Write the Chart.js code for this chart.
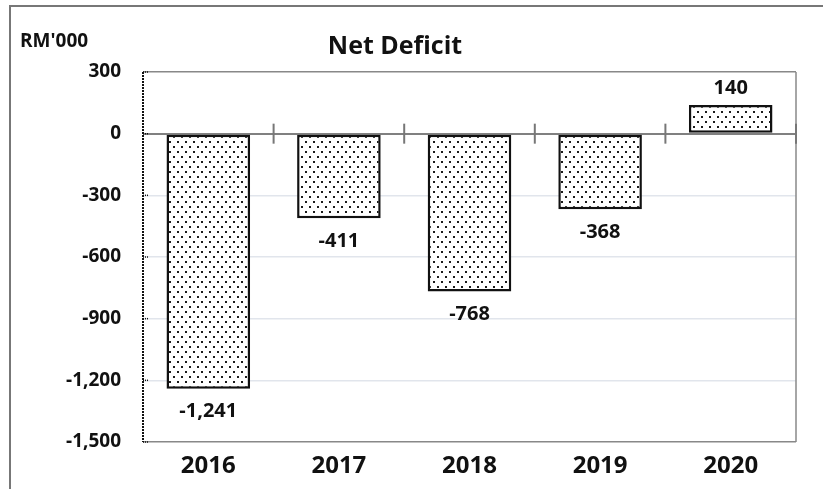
<!DOCTYPE html>
<html>
<head>
<meta charset="utf-8">
<script src="https://cdn.jsdelivr.net/npm/chart.js@4"></script>
<style>
  html, body { margin: 0; padding: 0; background: #fff; }
  #wrap { width: 826px; height: 489px; position: relative; }
</style>
</head>
<body>
<div id="wrap"><canvas id="chart" width="826" height="489"></canvas></div>
<script>
// chart data
const years = ["2016", "2017", "2018", "2019", "2020"];
const netDeficit = [-1241, -411, -768, -368, 140];
const yTicks = [300, 0, -300, -600, -900, -1200, -1500];
const chartTitle = "Net Deficit";
const unitLabel = "RM'000";

const FONT = "'Open Sans', 'Noto Sans', sans-serif";

// dotted fill like the Excel pattern
function makeDots() {
  const c = document.createElement("canvas");
  c.width = 8;
  c.height = 10;
  const g = c.getContext("2d");
  g.fillStyle = "#fff";
  g.fillRect(0, 0, 8, 10);
  g.fillStyle = "#1a1a1a";
  g.fillRect(1, 1, 2, 2);
  g.fillRect(5, 6, 2, 2);
  return g.createPattern(c, "repeat");
}

const fmt = (v) => v.toLocaleString("en-US");

const extras = {
  id: "extras",
  afterDraw(chart) {
    const { ctx, chartArea: a, scales } = chart;
    const x = scales.x, y = scales.y;
    ctx.save();

    // outer frame
    ctx.strokeStyle = "#777";
    ctx.lineWidth = 2;
    ctx.beginPath();
    ctx.moveTo(10, 489);
    ctx.lineTo(10, 6);
    ctx.lineTo(823, 6);
    ctx.stroke();

    // right edge of plot
    ctx.strokeStyle = "#888";
    ctx.lineWidth = 1.5;
    ctx.beginPath();
    ctx.moveTo(a.right, a.top);
    ctx.lineTo(a.right, a.bottom);
    ctx.stroke();

    // dotted left axis with small ticks
    ctx.strokeStyle = "#111";
    ctx.lineWidth = 2;
    ctx.setLineDash([2, 1]);
    ctx.beginPath();
    ctx.moveTo(a.left, a.top);
    ctx.lineTo(a.left, a.bottom);
    ctx.stroke();
    ctx.setLineDash([1, 1]);
    ctx.lineWidth = 1.5;
    yTicks.forEach((v) => {
      const yp = y.getPixelForValue(v);
      ctx.beginPath();
      ctx.moveTo(a.left, yp);
      ctx.lineTo(a.left + 5, yp);
      ctx.stroke();
    });
    ctx.setLineDash([]);

    // tick marks on the zero line between categories
    const y0 = y.getPixelForValue(0);
    ctx.strokeStyle = "#777";
    ctx.lineWidth = 2;
    for (let i = 0; i < years.length; i++) {
      const xp = i < years.length - 1
        ? (x.getPixelForValue(i) + x.getPixelForValue(i + 1)) / 2
        : a.right;
      ctx.beginPath();
      ctx.moveTo(xp, y0 - 10);
      ctx.lineTo(xp, y0 + 10);
      ctx.stroke();
    }

    // title and unit
    ctx.fillStyle = "#111";
    ctx.textBaseline = "middle";
    ctx.textAlign = "center";
    ctx.font = "bold 25px " + FONT;
    ctx.fillText(chartTitle, 395, 47);
    ctx.textAlign = "left";
    ctx.font = "bold 19px " + FONT;
    ctx.fillText(unitLabel, 20, 42);

    // value labels
    ctx.textAlign = "center";
    ctx.font = "bold 20px " + FONT;
    const meta = chart.getDatasetMeta(0);
    meta.data.forEach((el, i) => {
      const v = netDeficit[i];
      const ty = v < 0 ? el.y + 23 : el.y - 17;
      ctx.fillText(fmt(v), el.x, ty);
    });

    ctx.restore();
  }
};

new Chart(document.getElementById("chart"), {
  type: "bar",
  data: {
    labels: years,
    datasets: [
      {
        label: chartTitle,
        data: netDeficit,
        backgroundColor: makeDots(),
        borderColor: "#111",
        borderWidth: 2.5,
        borderSkipped: false,
        barPercentage: 0.64,
        categoryPercentage: 1.0,
      },
    ],
  },
  options: {
    responsive: false,
    animation: false,
    layout: { padding: { left: 10, top: 72, right: 30, bottom: 0 } },
    plugins: {
      legend: { display: false },
      title: { display: false },
      tooltip: { enabled: false },
    },
    scales: {
      x: {
        grid: { display: false, drawTicks: false },
        border: { display: false },
        ticks: {
          padding: 10,
          color: "#111",
          font: { family: FONT, size: 24, weight: "bold" },
        },
        afterFit: (s) => { s.height = 47; },
      },
      y: {
        min: -1500,
        max: 300,
        afterBuildTicks: (s) => { s.ticks = yTicks.map((v) => ({ value: v })); },
        grid: {
          drawTicks: false,
          lineWidth: (c) => (c.tick && c.tick.value === 0 ? 2 : 1.5),
          color: (c) => {
            const v = c.tick ? c.tick.value : null;
            if (v === 0) return "#808080";
            if (v === 300 || v === -1500) return "#888";
            return "#e1e5ec";
          },
        },
        border: { display: false },
        ticks: {
          padding: 22,
          color: "#111",
          font: { family: FONT, size: 19, weight: "bold" },
          callback: (v) => fmt(v),
        },
        afterFit: (s) => { s.width = 133; },
      },
    },
  },
  plugins: [extras],
});
</script>
</body>
</html>
